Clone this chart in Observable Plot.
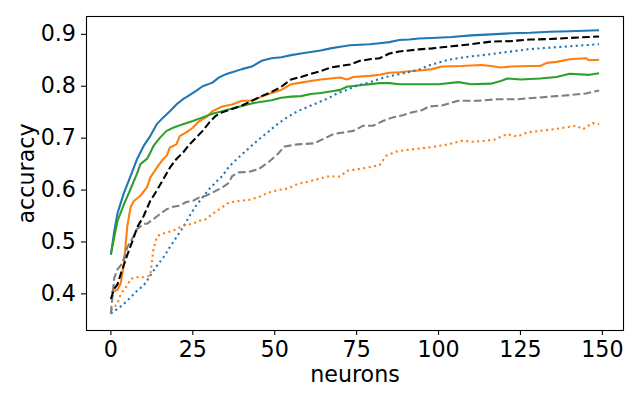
<!DOCTYPE html>
<html>
<head>
<meta charset="utf-8">
<script src="https://cdn.jsdelivr.net/npm/d3@7"></script>
<script src="https://cdn.jsdelivr.net/npm/@observablehq/plot@0.6"></script>
<style>
  html, body { margin: 0; padding: 0; background: white; }
</style>
</head>
<body>
<div id="chart"></div>
<script>
// [neurons, accuracy] pairs
const blueSolid = [[0,0.475],[1,0.52],[2,0.555],[4,0.595],[6,0.627],[8,0.66],[10,0.685],[12,0.704],[14,0.727],[16,0.74],[18,0.752],[20,0.765],[22,0.775],[24,0.783],[26,0.791],[28,0.8],[31,0.807],[33,0.817],[35,0.823],[37,0.827],[40,0.833],[43,0.838],[46,0.849],[49,0.854],[52,0.856],[55,0.86],[58,0.863],[61,0.866],[64,0.869],[67,0.873],[70,0.876],[73,0.879],[76,0.88],[79,0.881],[82,0.883],[85,0.885],[88,0.889],[91,0.89],[94,0.892],[98,0.893],[104,0.895],[110,0.898],[116,0.9],[122,0.902],[128,0.903],[134,0.905],[140,0.906],[149,0.908]];
const orangeSolid = [[0,0.403],[2,0.408],[3,0.42],[4,0.46],[5,0.53],[6,0.567],[7,0.579],[9,0.589],[11,0.605],[12,0.624],[14,0.643],[16,0.66],[17,0.666],[18,0.682],[20,0.688],[21,0.704],[23,0.711],[25,0.72],[27,0.733],[29,0.74],[31,0.752],[34,0.761],[37,0.765],[40,0.772],[43,0.772],[46,0.78],[49,0.787],[52,0.793],[55,0.804],[58,0.807],[61,0.81],[64,0.813],[67,0.815],[70,0.817],[72,0.813],[74,0.818],[79,0.82],[82,0.822],[85,0.826],[88,0.827],[91,0.829],[95,0.831],[98,0.833],[101,0.838],[107,0.839],[113,0.841],[116,0.839],[119,0.836],[122,0.838],[128,0.839],[131,0.839],[133,0.845],[136,0.847],[140,0.852],[145,0.854],[146,0.85],[149,0.851]];
const greenSolid = [[0,0.477],[2,0.54],[4,0.573],[6,0.602],[8,0.632],[9,0.65],[11,0.66],[12,0.672],[13,0.685],[15,0.701],[17,0.714],[19,0.72],[22,0.727],[25,0.733],[28,0.74],[31,0.747],[34,0.752],[37,0.757],[40,0.762],[43,0.767],[46,0.77],[49,0.773],[52,0.778],[55,0.78],[58,0.781],[61,0.785],[64,0.787],[67,0.79],[70,0.793],[72,0.799],[76,0.802],[82,0.806],[85,0.806],[88,0.804],[94,0.804],[100,0.804],[106,0.808],[110,0.804],[116,0.805],[119,0.81],[121,0.815],[125,0.813],[131,0.815],[136,0.818],[140,0.824],[146,0.822],[149,0.825]];
const blueDotted = [[0,0.362],[2,0.371],[4,0.381],[6,0.393],[8,0.406],[10,0.416],[12,0.435],[14,0.454],[16,0.47],[18,0.49],[20,0.509],[22,0.528],[24,0.55],[26,0.57],[28,0.586],[30,0.602],[32,0.615],[34,0.627],[36,0.645],[39,0.663],[42,0.68],[45,0.697],[48,0.712],[51,0.728],[54,0.741],[57,0.752],[60,0.76],[63,0.768],[66,0.776],[69,0.786],[72,0.793],[75,0.801],[78,0.806],[81,0.812],[84,0.818],[87,0.822],[90,0.826],[94,0.832],[97,0.84],[103,0.851],[109,0.857],[115,0.861],[121,0.866],[127,0.871],[133,0.874],[140,0.877],[149,0.881]];
const orangeDotted = [[0,0.368],[2,0.381],[3,0.4],[5,0.416],[6,0.429],[8,0.432],[10,0.432],[12,0.435],[13,0.487],[14,0.509],[15,0.515],[17,0.518],[19,0.522],[21,0.528],[23,0.533],[25,0.535],[27,0.541],[29,0.544],[31,0.554],[34,0.567],[36,0.576],[39,0.579],[42,0.581],[45,0.586],[48,0.595],[51,0.6],[54,0.603],[57,0.612],[60,0.616],[63,0.621],[66,0.626],[70,0.626],[72,0.637],[75,0.64],[78,0.643],[82,0.648],[84,0.666],[87,0.674],[90,0.677],[94,0.68],[97,0.682],[103,0.688],[107,0.695],[111,0.693],[117,0.697],[121,0.708],[124,0.703],[127,0.711],[131,0.714],[136,0.718],[142,0.724],[144,0.717],[147,0.729],[149,0.727]];
const grayDashed = [[0,0.362],[1,0.43],[2,0.447],[3,0.455],[4,0.468],[5,0.49],[7,0.512],[8,0.525],[10,0.535],[11,0.535],[13,0.544],[15,0.554],[17,0.563],[19,0.568],[21,0.57],[23,0.577],[25,0.579],[27,0.586],[29,0.589],[31,0.595],[34,0.605],[36,0.614],[37,0.627],[39,0.634],[42,0.635],[45,0.64],[48,0.653],[51,0.67],[53,0.684],[57,0.688],[62,0.69],[65,0.699],[68,0.708],[71,0.711],[74,0.714],[77,0.724],[80,0.724],[83,0.733],[86,0.74],[89,0.744],[92,0.75],[95,0.754],[97,0.761],[101,0.763],[106,0.772],[112,0.772],[118,0.775],[124,0.775],[130,0.778],[136,0.781],[140,0.783],[145,0.786],[149,0.792]];
const blackDashed = [[0,0.39],[1,0.41],[2,0.418],[3,0.438],[5,0.475],[7,0.509],[8,0.528],[10,0.55],[12,0.579],[14,0.599],[16,0.621],[18,0.643],[20,0.66],[22,0.672],[24,0.688],[26,0.701],[28,0.714],[30,0.73],[32,0.743],[34,0.75],[37,0.756],[40,0.763],[43,0.772],[46,0.781],[49,0.789],[52,0.799],[55,0.813],[58,0.818],[61,0.824],[64,0.829],[67,0.836],[70,0.839],[73,0.842],[76,0.849],[79,0.852],[82,0.854],[85,0.863],[88,0.867],[91,0.869],[94,0.871],[98,0.873],[104,0.877],[110,0.881],[116,0.886],[122,0.887],[128,0.89],[134,0.891],[140,0.893],[149,0.896]];

const xTicks = [0, 25, 50, 75, 100, 125, 150];
const yTicks = [0.4, 0.5, 0.6, 0.7, 0.8, 0.9];

const series = [
  {data: blueSolid, color: "#1f77b4", dash: null},
  {data: orangeSolid, color: "#ff7f0e", dash: null},
  {data: greenSolid, color: "#2ca02c", dash: null},
  {data: blueDotted, color: "#1f77b4", dash: "2.1,3.4"},
  {data: orangeDotted, color: "#ff7f0e", dash: "2.1,3.4"},
  {data: grayDashed, color: "#7f7f7f", dash: "7.7,3.3"},
  {data: blackDashed, color: "#000000", dash: "7.7,3.3"}
];

const fs = 22.2;
const chart = Plot.plot({
  width: 640,
  height: 400,
  marginLeft: 86,
  marginRight: 17,
  marginTop: 16,
  marginBottom: 70,
  style: {fontFamily: "DejaVu Sans", fontSize: fs + "px", background: "white", color: "black"},
  x: {domain: [-7.45, 156.45]},
  y: {domain: [0.3294, 0.9344]},
  marks: [
    ...series.map(s => Plot.line(s.data, {
      x: d => d[0], y: d => d[1],
      stroke: s.color, strokeWidth: 2.08,
      strokeDasharray: s.dash, strokeLinecap: "butt", strokeLinejoin: "round"
    })),
    Plot.axisX({ticks: xTicks, tickSize: 5, tickPadding: 6, fontSize: fs, strokeWidth: 1.1,
      tickFormat: d => String(d), label: "neurons", labelAnchor: "center", labelArrow: "none", labelOffset: 51}),
    Plot.axisY({ticks: yTicks, tickSize: 5, tickPadding: 5.5, fontSize: fs, strokeWidth: 1.1,
      tickFormat: d => d.toFixed(1), label: "accuracy", labelAnchor: "center", labelArrow: "none", labelOffset: 68.5}),
    Plot.frame({stroke: "black", strokeWidth: 1.1})
  ]
});
document.getElementById("chart").appendChild(chart);
</script>
</body>
</html>
